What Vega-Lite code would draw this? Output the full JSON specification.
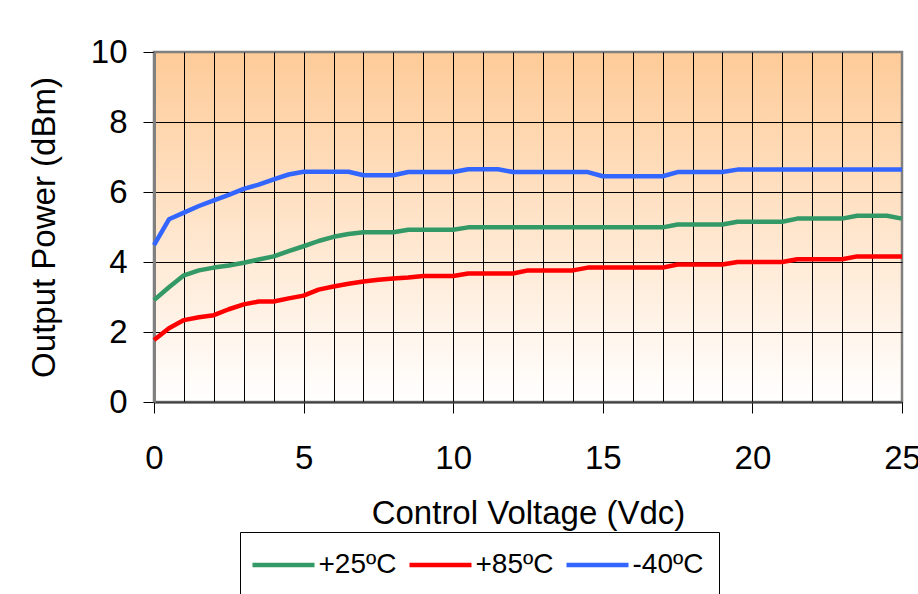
{
  "$schema": "https://vega.github.io/schema/vega-lite/v6.json",
  "width": 748,
  "height": 350,
  "autosize": {"type": "none"},
  "padding": {"left": 154, "top": 52, "right": 16, "bottom": 192},
  "background": "white",
  "config": {
    "font": "Liberation Sans",
    "view": {
      "fill": {"gradient": "linear", "x1": 0, "y1": 0, "x2": 0, "y2": 1,
        "stops": [{"offset": 0, "color": "#FECB98"}, {"offset": 1, "color": "#FFFFFF"}]},
      "stroke": "#808080",
      "strokeWidth": 2.5
    }
  },
  "data": {"values": [
    {"V": 0, "P": 2.91, "T": "+25ºC"}, {"V": 0.5, "P": 3.28, "T": "+25ºC"}, {"V": 1, "P": 3.62, "T": "+25ºC"}, {"V": 1.5, "P": 3.76, "T": "+25ºC"},
    {"V": 2, "P": 3.84, "T": "+25ºC"}, {"V": 2.5, "P": 3.9, "T": "+25ºC"}, {"V": 3, "P": 3.98, "T": "+25ºC"}, {"V": 3.5, "P": 4.07, "T": "+25ºC"},
    {"V": 4, "P": 4.16, "T": "+25ºC"}, {"V": 4.5, "P": 4.31, "T": "+25ºC"}, {"V": 5, "P": 4.45, "T": "+25ºC"}, {"V": 5.5, "P": 4.6, "T": "+25ºC"},
    {"V": 6, "P": 4.72, "T": "+25ºC"}, {"V": 6.5, "P": 4.8, "T": "+25ºC"}, {"V": 7, "P": 4.85, "T": "+25ºC"}, {"V": 7.5, "P": 4.85, "T": "+25ºC"},
    {"V": 8, "P": 4.85, "T": "+25ºC"}, {"V": 8.5, "P": 4.92, "T": "+25ºC"}, {"V": 9, "P": 4.92, "T": "+25ºC"}, {"V": 9.5, "P": 4.92, "T": "+25ºC"},
    {"V": 10, "P": 4.92, "T": "+25ºC"}, {"V": 10.5, "P": 4.99, "T": "+25ºC"}, {"V": 11, "P": 4.99, "T": "+25ºC"}, {"V": 11.5, "P": 4.99, "T": "+25ºC"},
    {"V": 12, "P": 4.99, "T": "+25ºC"}, {"V": 12.5, "P": 4.99, "T": "+25ºC"}, {"V": 13, "P": 4.99, "T": "+25ºC"}, {"V": 13.5, "P": 4.99, "T": "+25ºC"},
    {"V": 14, "P": 4.99, "T": "+25ºC"}, {"V": 14.5, "P": 4.99, "T": "+25ºC"}, {"V": 15, "P": 4.99, "T": "+25ºC"}, {"V": 15.5, "P": 4.99, "T": "+25ºC"},
    {"V": 16, "P": 4.99, "T": "+25ºC"}, {"V": 16.5, "P": 4.99, "T": "+25ºC"}, {"V": 17, "P": 4.99, "T": "+25ºC"}, {"V": 17.5, "P": 5.07, "T": "+25ºC"},
    {"V": 18, "P": 5.07, "T": "+25ºC"}, {"V": 18.5, "P": 5.07, "T": "+25ºC"}, {"V": 19, "P": 5.07, "T": "+25ºC"}, {"V": 19.5, "P": 5.15, "T": "+25ºC"},
    {"V": 20, "P": 5.15, "T": "+25ºC"}, {"V": 20.5, "P": 5.15, "T": "+25ºC"}, {"V": 21, "P": 5.15, "T": "+25ºC"}, {"V": 21.5, "P": 5.24, "T": "+25ºC"},
    {"V": 22, "P": 5.24, "T": "+25ºC"}, {"V": 22.5, "P": 5.24, "T": "+25ºC"}, {"V": 23, "P": 5.24, "T": "+25ºC"}, {"V": 23.5, "P": 5.32, "T": "+25ºC"},
    {"V": 24, "P": 5.32, "T": "+25ºC"}, {"V": 24.5, "P": 5.32, "T": "+25ºC"}, {"V": 25, "P": 5.24, "T": "+25ºC"},

    {"V": 0, "P": 1.77, "T": "+85ºC"}, {"V": 0.5, "P": 2.11, "T": "+85ºC"}, {"V": 1, "P": 2.34, "T": "+85ºC"}, {"V": 1.5, "P": 2.42, "T": "+85ºC"},
    {"V": 2, "P": 2.48, "T": "+85ºC"}, {"V": 2.5, "P": 2.65, "T": "+85ºC"}, {"V": 3, "P": 2.79, "T": "+85ºC"}, {"V": 3.5, "P": 2.87, "T": "+85ºC"},
    {"V": 4, "P": 2.87, "T": "+85ºC"}, {"V": 4.5, "P": 2.96, "T": "+85ºC"}, {"V": 5, "P": 3.04, "T": "+85ºC"}, {"V": 5.5, "P": 3.21, "T": "+85ºC"},
    {"V": 6, "P": 3.3, "T": "+85ºC"}, {"V": 6.5, "P": 3.38, "T": "+85ºC"}, {"V": 7, "P": 3.44, "T": "+85ºC"}, {"V": 7.5, "P": 3.49, "T": "+85ºC"},
    {"V": 8, "P": 3.53, "T": "+85ºC"}, {"V": 8.5, "P": 3.56, "T": "+85ºC"}, {"V": 9, "P": 3.6, "T": "+85ºC"}, {"V": 9.5, "P": 3.6, "T": "+85ºC"},
    {"V": 10, "P": 3.6, "T": "+85ºC"}, {"V": 10.5, "P": 3.67, "T": "+85ºC"}, {"V": 11, "P": 3.67, "T": "+85ºC"}, {"V": 11.5, "P": 3.67, "T": "+85ºC"},
    {"V": 12, "P": 3.67, "T": "+85ºC"}, {"V": 12.5, "P": 3.76, "T": "+85ºC"}, {"V": 13, "P": 3.76, "T": "+85ºC"}, {"V": 13.5, "P": 3.76, "T": "+85ºC"},
    {"V": 14, "P": 3.76, "T": "+85ºC"}, {"V": 14.5, "P": 3.84, "T": "+85ºC"}, {"V": 15, "P": 3.84, "T": "+85ºC"}, {"V": 15.5, "P": 3.84, "T": "+85ºC"},
    {"V": 16, "P": 3.84, "T": "+85ºC"}, {"V": 16.5, "P": 3.84, "T": "+85ºC"}, {"V": 17, "P": 3.84, "T": "+85ºC"}, {"V": 17.5, "P": 3.93, "T": "+85ºC"},
    {"V": 18, "P": 3.93, "T": "+85ºC"}, {"V": 18.5, "P": 3.93, "T": "+85ºC"}, {"V": 19, "P": 3.93, "T": "+85ºC"}, {"V": 19.5, "P": 4.0, "T": "+85ºC"},
    {"V": 20, "P": 4.0, "T": "+85ºC"}, {"V": 20.5, "P": 4.0, "T": "+85ºC"}, {"V": 21, "P": 4.0, "T": "+85ºC"}, {"V": 21.5, "P": 4.08, "T": "+85ºC"},
    {"V": 22, "P": 4.08, "T": "+85ºC"}, {"V": 22.5, "P": 4.08, "T": "+85ºC"}, {"V": 23, "P": 4.08, "T": "+85ºC"}, {"V": 23.5, "P": 4.16, "T": "+85ºC"},
    {"V": 24, "P": 4.16, "T": "+85ºC"}, {"V": 24.5, "P": 4.16, "T": "+85ºC"}, {"V": 25, "P": 4.16, "T": "+85ºC"},

    {"V": 0, "P": 4.48, "T": "-40ºC"}, {"V": 0.5, "P": 5.22, "T": "-40ºC"}, {"V": 1, "P": 5.41, "T": "-40ºC"}, {"V": 1.5, "P": 5.6, "T": "-40ºC"},
    {"V": 2, "P": 5.76, "T": "-40ºC"}, {"V": 2.5, "P": 5.92, "T": "-40ºC"}, {"V": 3, "P": 6.09, "T": "-40ºC"}, {"V": 3.5, "P": 6.21, "T": "-40ºC"},
    {"V": 4, "P": 6.36, "T": "-40ºC"}, {"V": 4.5, "P": 6.5, "T": "-40ºC"}, {"V": 5, "P": 6.58, "T": "-40ºC"}, {"V": 5.5, "P": 6.58, "T": "-40ºC"},
    {"V": 6, "P": 6.58, "T": "-40ºC"}, {"V": 6.5, "P": 6.58, "T": "-40ºC"}, {"V": 7, "P": 6.48, "T": "-40ºC"}, {"V": 7.5, "P": 6.48, "T": "-40ºC"},
    {"V": 8, "P": 6.48, "T": "-40ºC"}, {"V": 8.5, "P": 6.57, "T": "-40ºC"}, {"V": 9, "P": 6.57, "T": "-40ºC"}, {"V": 9.5, "P": 6.57, "T": "-40ºC"},
    {"V": 10, "P": 6.57, "T": "-40ºC"}, {"V": 10.5, "P": 6.65, "T": "-40ºC"}, {"V": 11, "P": 6.65, "T": "-40ºC"}, {"V": 11.5, "P": 6.65, "T": "-40ºC"},
    {"V": 12, "P": 6.57, "T": "-40ºC"}, {"V": 12.5, "P": 6.57, "T": "-40ºC"}, {"V": 13, "P": 6.57, "T": "-40ºC"}, {"V": 13.5, "P": 6.57, "T": "-40ºC"},
    {"V": 14, "P": 6.57, "T": "-40ºC"}, {"V": 14.5, "P": 6.57, "T": "-40ºC"}, {"V": 15, "P": 6.45, "T": "-40ºC"}, {"V": 15.5, "P": 6.45, "T": "-40ºC"},
    {"V": 16, "P": 6.45, "T": "-40ºC"}, {"V": 16.5, "P": 6.45, "T": "-40ºC"}, {"V": 17, "P": 6.45, "T": "-40ºC"}, {"V": 17.5, "P": 6.57, "T": "-40ºC"},
    {"V": 18, "P": 6.57, "T": "-40ºC"}, {"V": 18.5, "P": 6.57, "T": "-40ºC"}, {"V": 19, "P": 6.57, "T": "-40ºC"}, {"V": 19.5, "P": 6.64, "T": "-40ºC"},
    {"V": 20, "P": 6.64, "T": "-40ºC"}, {"V": 20.5, "P": 6.64, "T": "-40ºC"}, {"V": 21, "P": 6.64, "T": "-40ºC"}, {"V": 21.5, "P": 6.64, "T": "-40ºC"},
    {"V": 22, "P": 6.64, "T": "-40ºC"}, {"V": 22.5, "P": 6.64, "T": "-40ºC"}, {"V": 23, "P": 6.64, "T": "-40ºC"}, {"V": 23.5, "P": 6.64, "T": "-40ºC"},
    {"V": 24, "P": 6.64, "T": "-40ºC"}, {"V": 24.5, "P": 6.64, "T": "-40ºC"}, {"V": 25, "P": 6.64, "T": "-40ºC"}
  ]},
  "mark": {"type": "line", "strokeWidth": 4.5, "strokeJoin": "round", "strokeCap": "butt"},
  "encoding": {
    "x": {
      "field": "V", "type": "quantitative",
      "scale": {"domain": [0, 25], "nice": false, "zero": false},
      "axis": {
        "title": "Control Voltage (Vdc)",
        "values": [0,1,2,3,4,5,6,7,8,9,10,11,12,13,14,15,16,17,18,19,20,21,22,23,24,25],
        "labelExpr": "datum.value % 5 === 0 ? datum.label : ''",
        "labelFontSize": 33, "labelColor": "black", "labelPadding": 29, "labelFlush": false,
        "titleFontSize": 33, "titleFontWeight": "normal", "titleColor": "black", "titlePadding": 22,
        "tickColor": "black", "tickWidth": 1,
        "tickSize": {"condition": {"test": "datum.value % 5 === 0", "value": 11}, "value": 0},
        "grid": true, "gridColor": "black", "gridWidth": 1,
        "gridOpacity": {"condition": {"test": "datum.value === 0 || datum.value === 25", "value": 0}, "value": 1},
        "domainColor": "#404040", "domainWidth": 2
      }
    },
    "y": {
      "field": "P", "type": "quantitative",
      "scale": {"domain": [0, 10], "nice": false},
      "axis": {
        "title": "Output Power (dBm)",
        "values": [0, 2, 4, 6, 8, 10],
        "labelFontSize": 33, "labelColor": "black", "labelPadding": 16,
        "titleFontSize": 33, "titleFontWeight": "normal", "titleColor": "black", "titlePadding": 29,
        "tickColor": "black", "tickSize": 11, "tickWidth": 1,
        "grid": true, "gridColor": "black", "gridWidth": 1,
        "gridOpacity": {"condition": {"test": "datum.value === 10", "value": 0}, "value": 1},
        "domainColor": "#808080", "domainWidth": 3
      }
    },
    "color": {
      "field": "T", "type": "nominal",
      "scale": {"domain": ["+25ºC", "+85ºC", "-40ºC"], "range": ["#339966", "#FF0000", "#3366FF"]},
      "legend": {
        "title": null,
        "orient": "none", "legendX": 86, "legendY": 480,
        "direction": "horizontal",
        "symbolType": "M-2,0H2", "symbolSize": 961, "symbolStrokeWidth": 4.5, "symbolOffset": 10.5,
        "labelFontSize": 28, "labelColor": "black", "labelOffset": 17,
        "columnPadding": 3,
        "strokeColor": "black", "fillColor": "white", "padding": 15
      }
    }
  }
}
